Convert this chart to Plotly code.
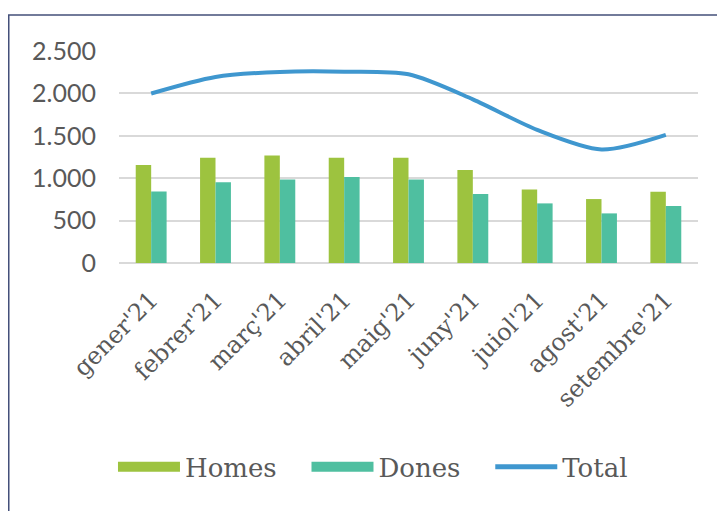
import plotly.graph_objects as go

months = ["gener'21", "febrer'21", "març'21", "abril'21", "maig'21",
          "juny'21", "juiol'21", "agost'21", "setembre'21"]
homes = [1156, 1241, 1269, 1241, 1241, 1097, 867, 754, 840]
dones = [843, 953, 984, 1015, 984, 813, 703, 585, 672]
total = [1999, 2194, 2253, 2256, 2225, 1930, 1570, 1339, 1512]
y_ticks = [0, 500, 1000, 1500, 2000, 2500]

serif = "DejaVu Serif"
gray = "#595959"
c_h, c_d, c_t = "#9dc33f", "#4fbfa0", "#3f97cf"
nb = "\u00a0"

fig = go.Figure()
fig.add_trace(go.Bar(x=months, y=homes, name="Homes", marker_color=c_h,
                     marker_line_width=0, showlegend=False))
fig.add_trace(go.Bar(x=months, y=dones, name="Dones", marker_color=c_d,
                     marker_line_width=0, showlegend=False))
fig.add_trace(go.Scatter(x=months, y=total, name="Total", mode="lines", showlegend=False,
                         line=dict(color=c_t, width=4, shape="spline", smoothing=0.8)))
# legend entries (wide rectangle symbols like the original)
for nm, col, w, pad in [("Homes", c_h, 14, 3), ("Dones", c_d, 14, 3), ("Total", c_t, 5, 0)]:
    fig.add_trace(go.Scatter(x=[None], y=[None], name=nm + nb * pad, mode="lines",
                             line=dict(color=col, width=w)))

fig.update_layout(
    width=725, height=511,
    margin=dict(l=111, r=35, t=43, b=256),
    paper_bgcolor="white", plot_bgcolor="white",
    barmode="group", bargap=0.52, bargroupgap=0,
    separators=",.",
    showlegend=True,
    legend=dict(orientation="h", x=-0.0104, xanchor="left", y=-0.962, yanchor="middle",
                font=dict(family=serif, size=26, color=gray), itemwidth=62,
                traceorder="normal"),
    shapes=[dict(type="rect", xref="paper", yref="paper",
                 x0=-0.1904, x1=2, y0=-2, y1=1.1698,
                 line=dict(color="#44507a", width=1.5), fillcolor="rgba(0,0,0,0)")],
)
fig.update_xaxes(tickangle=-45, tickfont=dict(family=serif, size=24, color=gray),
                 showline=False, showgrid=False, ticks="", ticklabelstandoff=17,
                 automargin=False)
fig.update_yaxes(range=[0, 2500], tickvals=y_ticks, tickformat=",d",
                 tickfont=dict(family="Lato", size=25, color=gray),
                 gridcolor="#d9d9d9", gridwidth=1.5, zeroline=True,
                 zerolinecolor="#d9d9d9", zerolinewidth=1.5, showline=False,
                 ticks="", ticklabelstandoff=22, automargin=False)

fig.write_html("out.html")
